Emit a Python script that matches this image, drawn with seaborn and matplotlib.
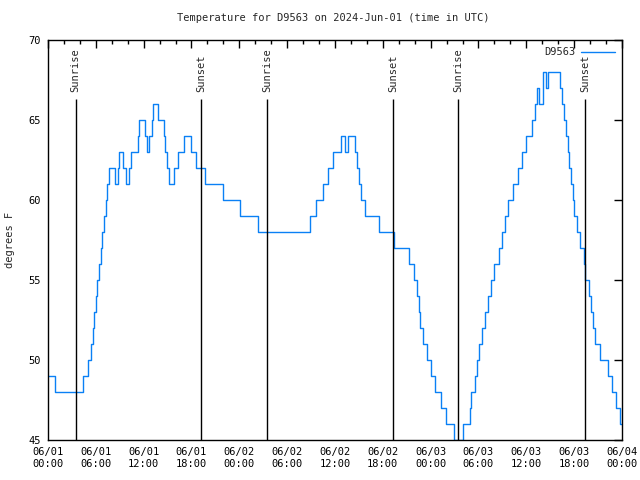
"""Temperature trace for station D9563, gnuplot-like look."""
import matplotlib
matplotlib.use("Agg")
import matplotlib.pyplot as plt
import matplotlib.dates as mdates
import seaborn as sns
import pandas as pd

# Change points: hours after 2024-06-01 00:00 UTC and temperature (deg F)
hours = [0.0, 0.9, 4.4, 5.06, 5.39, 5.6, 5.77, 5.98, 6.19, 6.36, 6.6, 6.81,
         7.06, 7.23, 7.4, 7.65, 8.4, 8.74, 8.94, 9.41, 9.8, 10.12, 10.37,
         11.3, 11.37, 12.21, 12.38, 12.67, 13.0, 13.21, 13.8, 14.55, 14.72,
         14.88, 15.13, 15.8, 16.35, 17.1, 17.9, 18.56, 19.65, 21.9, 24.08,
         26.4, 32.87, 33.6, 34.45, 35.08, 35.71, 36.71, 37.3, 37.6, 38.55,
         38.7, 38.97, 39.26, 39.76, 41.5, 43.45, 45.27, 45.95, 46.29, 46.5,
         46.7, 47.08, 47.54, 48.04, 48.5, 49.26, 49.97, 50.93, 52.1, 52.94,
         53.1, 53.5, 53.8, 54.1, 54.4, 54.8, 55.2, 55.6, 56.0, 56.6, 56.9,
         57.3, 57.7, 58.3, 58.99, 59.4, 60.0, 60.7, 61.1, 61.3, 61.6, 62.05,
         62.47, 62.72, 64.2, 64.48, 64.7, 64.98, 65.2, 65.4, 65.6, 65.8,
         66.0, 66.3, 66.7, 67.2, 67.4, 67.8, 68.1, 68.3, 68.65, 69.2, 70.3,
         70.7, 71.25, 71.75, 72.0]
temps = [49, 48, 49, 50, 51, 52, 53, 54, 55, 56, 57, 58,
         59, 60, 61, 62, 61, 62, 63, 62, 61, 62, 63,
         64, 65, 64, 63, 64, 65, 66, 65, 64, 63,
         62, 61, 62, 63, 64, 63, 62, 61, 60, 59,
         58, 59, 60, 61, 62, 63, 64, 63, 64, 63,
         62, 61, 60, 59, 58, 57, 56, 55, 54, 53,
         52, 51, 50, 49, 48, 47, 46, 45, 46, 47,
         48, 49, 50, 51, 52, 53, 54, 55, 56, 57, 58,
         59, 60, 61, 62, 63, 64, 65, 66, 67, 66, 68,
         67, 68, 67, 66, 65, 64, 63, 62, 61, 60,
         59, 58, 57, 56, 55, 54, 53, 52, 51, 50, 49,
         48, 47, 46, 46]

event_times = ["2024-06-01 03:27", "2024-06-01 19:14", "2024-06-02 03:29",
               "2024-06-02 19:19", "2024-06-03 03:28", "2024-06-03 19:22"]
event_labels = ["Sunrise", "Sunset", "Sunrise", "Sunset", "Sunrise", "Sunset"]

station = "D9563"
start = pd.Timestamp("2024-06-01 00:00")
end = pd.Timestamp("2024-06-04 00:00")

df = pd.DataFrame({"time": start + pd.to_timedelta(hours, unit="h"), "temp": temps})
events = pd.to_datetime(event_times)

# Style
sns.set_style("white")
plt.rcParams["font.family"] = ["DejaVu Sans Mono", "DejaVu Sans"]
plt.rcParams["font.size"] = 7.5

fig = plt.figure(figsize=(6.4, 4.8), dpi=100)
ax = fig.add_axes([48 / 640, 40 / 480, 574 / 640, 400 / 480])

sns.lineplot(data=df, x="time", y="temp", ax=ax, color="#0a80f5",
             linewidth=1.0, drawstyle="steps-post", label=station)

# sunrise / sunset markers
ax.vlines(events, 45, 66.3, color="black", linewidth=1.0)
for t, lab in zip(events, event_labels):
    ax.text(t, 66.75, lab, rotation=90, ha="center", va="bottom", fontsize=7.5)

ax.set_xlim(start, end)
ax.set_ylim(45, 70)
ax.set_yticks(range(45, 71, 5))
ax.xaxis.set_major_locator(mdates.HourLocator(byhour=[0, 6, 12, 18]))
ax.xaxis.set_minor_locator(mdates.HourLocator(interval=2))
ax.xaxis.set_major_formatter(mdates.DateFormatter("%m/%d\n%H:%M"))
ax.tick_params(which="both", direction="in", top=True, right=True,
               colors="black", labelsize=7.5, width=1)
ax.tick_params(which="major", length=6, pad=5)
ax.tick_params(which="minor", length=3)
ax.set_xlabel("")
ax.set_ylabel("")
for s in ax.spines.values():
    s.set_color("black")
    s.set_linewidth(1)

fig.text(333 / 640, 1 - 18 / 480, f"Temperature for {station} on 2024-Jun-01 (time in UTC)",
         ha="center", va="center", fontsize=7.5)
fig.text(10 / 640, 1 - 240 / 480, "degrees F", rotation=90, ha="center", va="center",
         fontsize=7.5)

ax.legend(loc="upper right", frameon=False, markerfirst=False, handlelength=3.2,
          fontsize=7.5, borderaxespad=0.3, handletextpad=0.6)

fig.savefig("out.png", dpi=100)
plt.close(fig)
